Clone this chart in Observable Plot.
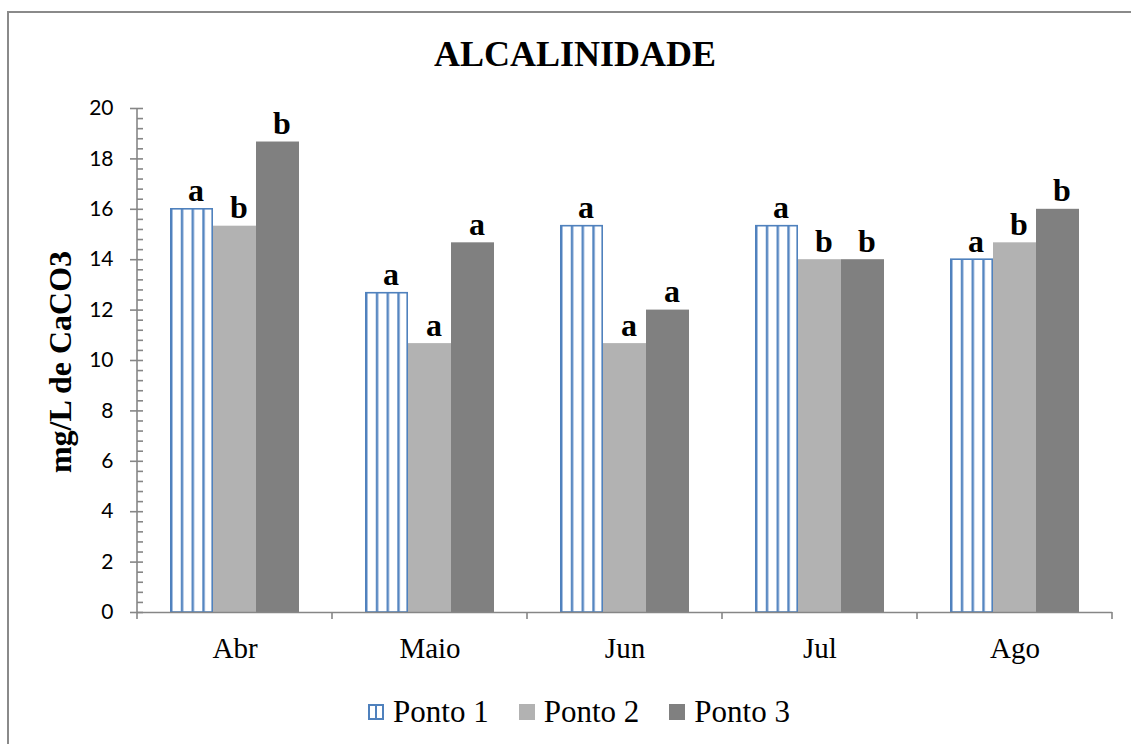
<!DOCTYPE html>
<html>
<head>
<meta charset="utf-8">
<script src="https://cdn.jsdelivr.net/npm/d3@7"></script>
<script src="https://cdn.jsdelivr.net/npm/@observablehq/plot@0.6"></script>
<style>
  html, body { margin: 0; padding: 0; background: #fff; width: 1131px; height: 744px; overflow: hidden; }
  #frame { position: absolute; left: 7px; top: 11px; width: 1140px; height: 760px; border: 2px solid #8a8a8a; box-sizing: border-box; }
  #title { position: absolute; left: 0; width: 1150px; top: 34px; text-align: center; font-family: "Liberation Serif", "Times New Roman", serif; font-weight: bold; font-size: 36px; line-height: 40px; color: #000; }
  #ytitle { position: absolute; left: 60px; top: 362px; transform: translate(-50%, -50%) rotate(-90deg); white-space: nowrap; font-family: "Liberation Serif", "Times New Roman", serif; font-weight: bold; font-size: 32px; color: #000; }
  #chart { position: absolute; left: 0; top: 90px; }
  #legend { position: absolute; left: 0; width: 1158px; top: 694px; display: flex; justify-content: center; align-items: center; color: #000; }
  #legend span { font-family: "Liberation Serif", "Times New Roman", serif; font-size: 31px; line-height: 36px; }
  .item { display: flex; align-items: center; margin: 0 15px; }
  .sw { width: 16px; height: 16px; margin-right: 9px; box-sizing: border-box; }
  .sw1 { border: 2px solid #4F81BD; background: linear-gradient(to right, transparent 5px, #4F81BD 5px, #4F81BD 7px, transparent 7px); }
</style>
</head>
<body>
<div id="frame"></div>
<div id="title">ALCALINIDADE</div>
<div id="ytitle">mg/L de CaCO3</div>
<div id="chart"></div>
<div id="legend"></div>
<script>
const months = ["Abr", "Maio", "Jun", "Jul", "Ago"];
const series = ["Ponto 1", "Ponto 2", "Ponto 3"];
const ponto1 = [16.0, 12.67, 15.33, 15.33, 14.0];
const ponto2 = [15.33, 10.67, 10.67, 14.0, 14.67];
const ponto3 = [18.67, 14.67, 12.0, 14.0, 16.0];
const letters1 = ["a", "a", "a", "a", "a"];
const letters2 = ["b", "a", "a", "b", "b"];
const letters3 = ["b", "a", "a", "b", "b"];
const colors = ["url(#stripes)", "#B2B2B2", "#808080"];
const swatchColors = ["#fff", "#B2B2B2", "#808080"];
const yMajor = d3.range(0, 21, 2);
const yMinor = d3.range(0, 51).map(i => i * 0.4);

const values = [ponto1, ponto2, ponto3];
const letters = [letters1, letters2, letters3];
const data = [];
months.forEach((m, i) => series.forEach((s, j) => data.push({month: m, series: s, value: values[j][i], letter: letters[j][i]})));

const axisColor = "#868686";
const serif = "Liberation Serif";

const plot = Plot.plot({
  width: 1131,
  height: 590,
  marginLeft: 137,
  marginRight: 19,
  marginTop: 18,
  marginBottom: 68,
  style: {fontFamily: serif, background: "transparent", overflow: "visible"},
  fx: {domain: months, padding: 0, label: null, axis: null},
  x: {domain: series, paddingInner: 0, paddingOuter: 0.75, axis: null},
  y: {domain: [0, 20], axis: null},
  color: {domain: series, range: colors},
  marks: [
    Plot.barY(data, {fx: "month", x: "series", y: "value", fill: "series", insetLeft: 0, insetRight: 0}),
    Plot.barY(data.filter(d => d.series === series[0]), {fx: "month", x: "series", y: "value", fill: "none", stroke: "#4F81BD", strokeWidth: 1.6, insetLeft: 0.8, insetRight: 0.8}),
    Plot.ruleY([0], {stroke: axisColor, strokeWidth: 1.6}),
    Plot.axisY(yMajor, {tickSize: 7, tickPadding: 17, stroke: axisColor, strokeWidth: 1.6, fill: "#000", fontSize: 21, fontFamily: "Lato", label: null, tickFormat: d => String(d)}),
    Plot.axisY(yMinor, {tickSize: 6, dx: 6, stroke: axisColor, strokeWidth: 1.6, tickFormat: () => "", label: null}),
    Plot.axisFx({anchor: "bottom", tickSize: 0, tickPadding: 25, fontSize: 29, fontFamily: serif, fill: "#000", label: null}),
    Plot.text(data, {fx: "month", x: "series", y: "value", text: "letter", lineAnchor: "bottom", dy: -8, dx: 4, fontSize: 32, fontWeight: "bold", fontFamily: serif, fill: "#000"})
  ]
});

document.getElementById("chart").appendChild(plot);

// pattern definition for Ponto 1 bars
const svg = d3.select(plot);
const defs = svg.insert("defs", ":first-child");
const pat = defs.append("pattern").attr("id", "stripes")
  .attr("patternUnits", "objectBoundingBox").attr("patternContentUnits", "objectBoundingBox")
  .attr("width", 0.25).attr("height", 1);
pat.append("rect").attr("x", 0).attr("y", 0).attr("width", 0.25).attr("height", 1).attr("fill", "#fff");
pat.append("rect").attr("x", 0).attr("y", 0).attr("width", 0.06).attr("height", 1).attr("fill", "#6E97CC");
pat.append("rect").attr("x", 0.012).attr("y", 0).attr("width", 0.03).attr("height", 1).attr("fill", "#4F81BD");

// y-axis line and category boundary ticks, positioned through Plot's scales
const fx = plot.scale("fx");
const y = plot.scale("y");
const y0 = y.apply(0), y20 = y.apply(20);
const left = fx.apply(months[0]);
svg.append("line").attr("x1", left).attr("x2", left).attr("y1", y0).attr("y2", y20)
  .attr("stroke", axisColor).attr("stroke-width", 1.6);
const bounds = months.map(m => fx.apply(m)).concat([fx.apply(months[months.length - 1]) + fx.bandwidth]);
bounds.forEach(bx => {
  svg.append("line").attr("x1", bx).attr("x2", bx).attr("y1", y0).attr("y2", y0 + 7)
    .attr("stroke", axisColor).attr("stroke-width", 1.6);
});

// legend
const legend = d3.select("#legend");
series.forEach((s, j) => {
  const item = legend.append("div").attr("class", "item");
  item.append("div").attr("class", "sw" + (j === 0 ? " sw1" : "")).style("background-color", j === 0 ? null : swatchColors[j]);
  item.append("span").text(s);
});
</script>
</body>
</html>
